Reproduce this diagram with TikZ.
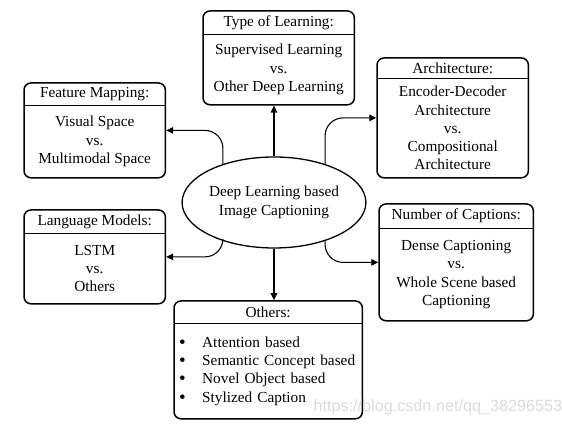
\documentclass[tikz,border=0pt]{standalone}
\usepackage{fontspec}
\setmainfont{Liberation Serif}
\newfontfamily\markfont{Liberation Sans}
\usepackage{tikz}
\usetikzlibrary{shapes.geometric, arrows.meta, positioning, fit}
\newcommand{\itm}{\makebox[22pt][l]{\hspace{-1pt}\smash{\fontsize{19}{18}\selectfont\raisebox{-1pt}{\textbullet}}}}

\begin{document}
\begin{tikzpicture}[x=1pt, y=1pt,
    txt/.style={font=\fontsize{15.3}{18.3}\selectfont},
    hd/.style={txt, rectangle, inner sep=0pt, align=center, anchor=north west},
    bd/.style={txt, rectangle, inner sep=0pt, align=center},
    frame/.style={draw, line width=1.5pt, rounded corners=7pt, inner sep=0pt},
    sep/.style={line width=1.3pt},
    hub/.style={txt, ellipse, draw, line width=1.3pt, minimum width=162pt, minimum height=91pt, inner sep=0pt, align=center},
    arr/.style={-{Triangle[length=7pt, width=6.5pt]}, line width=1.1pt},
    wmark/.style={font=\markfont\fontsize{16.2}{18}\selectfont, text=black!14}
]
\useasboundingbox (0,0) rectangle (562,427);

\node[hub] (dc) at (274,224.5) {Deep Learning based\\Image Captioning};

% type of learning
\node[hd, minimum width=151pt, minimum height=23pt] (th) at (203,416) {Type of Learning:};
\node[bd, below=0pt of th, minimum width=151pt, minimum height=70pt] (tb) {Supervised Learning\\vs.\\Other Deep Learning};
\node[frame, fit=(th)(tb)] (type) {};
\draw[sep] (th.south west) -- (th.south east);

% feature mapping
\node[hd, minimum width=141pt, minimum height=22pt] (fh) at (24,344) {Feature Mapping:};
\node[bd, below=0pt of fh, minimum width=141pt, minimum height=72pt] (fb) {Visual Space\\vs.\\Multimodal Space};
\node[frame, fit=(fh)(fb)] (feat) {};
\draw[sep] (fh.south west) -- (fh.south east);

% architecture
\node[hd, minimum width=151pt, minimum height=20pt] (ah) at (377,369) {Architecture:};
\node[bd, below=0pt of ah, minimum width=151pt, minimum height=99pt] (ab) {Encoder-Decoder\\Architecture\\vs.\\Compositional\\Architecture};
\node[frame, fit=(ah)(ab)] (arch) {};
\draw[sep] (ah.south west) -- (ah.south east);

% language models
\node[hd, minimum width=141pt, minimum height=23pt] (lh) at (24,217) {Language Models:};
\node[bd, below=0pt of lh, minimum width=141pt, minimum height=70pt] (lb) {LSTM\\vs.\\Others};
\node[frame, fit=(lh)(lb)] (lang) {};
\draw[sep] (lh.south west) -- (lh.south east);

% number of captions
\node[hd, minimum width=154pt, minimum height=24pt] (nh) at (379,223) {Number of Captions:};
\node[bd, below=0pt of nh, minimum width=154pt, minimum height=92pt] (nb) {Dense Captioning\\vs.\\Whole Scene based\\Captioning};
\node[frame, fit=(nh)(nb)] (num) {};
\draw[sep] (nh.south west) -- (nh.south east);

% others
\node[hd, minimum width=188pt, minimum height=22pt] (oh) at (174,126) {Others:};
\node[bd, below=0pt of oh, minimum width=188pt, minimum height=95pt, text width=176pt, inner xsep=6pt, align=left] (ob) {\itm Attention based\\\itm Semantic Concept based\\\itm Novel Object based\\\itm Stylized Caption};
\node[frame, fit=(oh)(ob)] (oth) {};
\draw[sep] (oh.south west) -- (oh.south east);

% connectors
\draw[arr] (dc.north) -- (dc.north |- type.south);
\draw[arr] (dc.south) -- (dc.south |- oth.north);
\draw[arr, rounded corners=18pt] (dc.143) |- (feat.east);
\draw[arr, rounded corners=18pt] (dc.217) |- (lang.east);
\draw[arr, rounded corners=18pt] (dc.37) |- (arch.west);
\draw[arr, rounded corners=18pt] (dc.-37) |- (num.west);

\node[wmark, anchor=west] (wm) at (310,20) {https://blog.csdn.net/qq\_38296553};
\end{tikzpicture}
\end{document}
